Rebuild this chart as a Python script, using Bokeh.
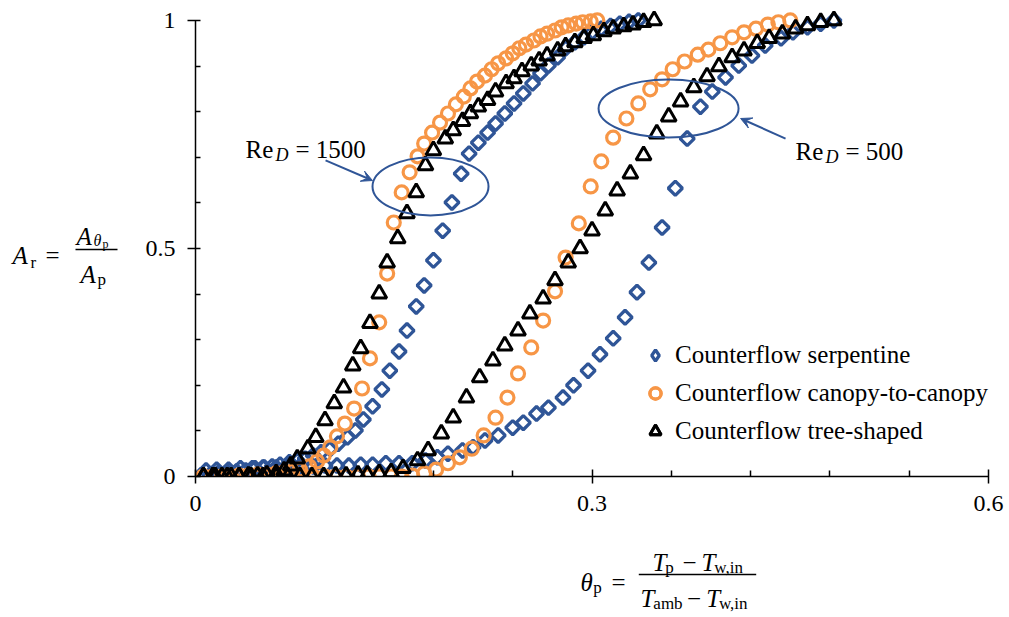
import math
from bokeh.plotting import figure
from bokeh.layouts import row, column
from bokeh.models import Range1d, FixedTicker, Label, Arrow, VeeHead, Legend, LegendItem
from bokeh.embed import file_html
from bokeh.resources import INLINE

# ---------------- data ----------------
serp_1500_x = [0.004, 0.011, 0.017, 0.024, 0.031, 0.038, 0.045, 0.051, 0.058, 0.064,
               0.071, 0.077, 0.083, 0.089, 0.095, 0.102, 0.108, 0.115, 0.121, 0.127,
               0.134, 0.141, 0.147, 0.154, 0.160, 0.167, 0.173, 0.180, 0.187, 0.194,
               0.201, 0.207, 0.214, 0.221, 0.227, 0.234, 0.241, 0.248, 0.255, 0.261,
               0.267, 0.274, 0.280, 0.287, 0.294, 0.300, 0.307, 0.314, 0.321, 0.328, 0.335]
serp_1500_y = [0.002, 0.004, 0.007, 0.009, 0.011, 0.013, 0.018, 0.020, 0.022, 0.026,
               0.031, 0.035, 0.039, 0.046, 0.053, 0.061, 0.072, 0.086, 0.101, 0.125,
               0.154, 0.191, 0.232, 0.274, 0.320, 0.373, 0.419, 0.474, 0.539, 0.601,
               0.664, 0.708, 0.732, 0.754, 0.774, 0.796, 0.818, 0.840, 0.862, 0.884,
               0.901, 0.919, 0.939, 0.952, 0.963, 0.974, 0.982, 0.988, 0.993, 0.997, 1.000]

canopy_1500_x = [0.006, 0.013, 0.020, 0.027, 0.033, 0.040, 0.047, 0.054, 0.061, 0.067,
                 0.073, 0.079, 0.086, 0.092, 0.097, 0.102, 0.107, 0.113, 0.120, 0.126,
                 0.132, 0.139, 0.145, 0.150, 0.156, 0.162, 0.168, 0.173, 0.179, 0.185,
                 0.191, 0.197, 0.203, 0.208, 0.213, 0.219, 0.224, 0.229, 0.235, 0.240,
                 0.245, 0.250, 0.256, 0.261, 0.266, 0.272, 0.277, 0.282, 0.288, 0.293,
                 0.299, 0.304]
canopy_1500_y = [0.000, 0.000, 0.000, 0.000, 0.002, 0.002, 0.004, 0.004, 0.007, 0.009,
                 0.011, 0.015, 0.022, 0.033, 0.046, 0.064, 0.088, 0.116, 0.149, 0.193,
                 0.259, 0.338, 0.445, 0.557, 0.623, 0.667, 0.702, 0.730, 0.754, 0.776,
                 0.796, 0.816, 0.833, 0.851, 0.866, 0.879, 0.893, 0.906, 0.917, 0.928,
                 0.939, 0.947, 0.956, 0.965, 0.971, 0.978, 0.985, 0.989, 0.993, 0.996,
                 0.998, 1.000]

tree_1500_x = [0.006, 0.013, 0.020, 0.027, 0.033, 0.040, 0.047, 0.054, 0.061, 0.067,
               0.072, 0.077, 0.085, 0.091, 0.098, 0.105, 0.112, 0.119, 0.125, 0.132,
               0.139, 0.145, 0.153, 0.160, 0.167, 0.174, 0.180, 0.189, 0.195, 0.202,
               0.208, 0.214, 0.221, 0.227, 0.235, 0.241, 0.247, 0.254, 0.260, 0.266,
               0.274, 0.280, 0.287, 0.294, 0.301, 0.309, 0.316, 0.324, 0.331, 0.339, 0.347]
tree_1500_y = [0.000, 0.000, 0.000, 0.000, 0.000, 0.002, 0.002, 0.004, 0.007, 0.013,
               0.024, 0.039, 0.061, 0.086, 0.123, 0.160, 0.195, 0.243, 0.281, 0.336,
               0.401, 0.469, 0.522, 0.577, 0.623, 0.682, 0.715, 0.741, 0.759, 0.779,
               0.796, 0.811, 0.825, 0.844, 0.862, 0.873, 0.888, 0.901, 0.912, 0.923,
               0.934, 0.943, 0.952, 0.961, 0.967, 0.976, 0.982, 0.987, 0.991, 0.996, 1.000]

serp_500_x = [0.008, 0.016, 0.025, 0.034, 0.043, 0.052, 0.061, 0.070, 0.079, 0.089,
              0.098, 0.107, 0.116, 0.125, 0.134, 0.144, 0.154, 0.164, 0.174, 0.183,
              0.191, 0.202, 0.210, 0.219, 0.229, 0.240, 0.248, 0.258, 0.267, 0.278,
              0.286, 0.297, 0.306, 0.316, 0.325, 0.334, 0.343, 0.353, 0.363, 0.372,
              0.382, 0.391, 0.401, 0.411, 0.421, 0.431, 0.443, 0.452, 0.463, 0.473, 0.483]
serp_500_y = [0.013, 0.015, 0.015, 0.018, 0.018, 0.020, 0.020, 0.022, 0.022, 0.022,
              0.024, 0.024, 0.024, 0.026, 0.026, 0.029, 0.029, 0.029, 0.035, 0.042,
              0.050, 0.057, 0.064, 0.079, 0.090, 0.107, 0.118, 0.138, 0.151, 0.173,
              0.200, 0.232, 0.268, 0.303, 0.349, 0.404, 0.469, 0.546, 0.632, 0.741,
              0.811, 0.844, 0.875, 0.901, 0.923, 0.945, 0.961, 0.974, 0.985, 0.993, 1.000]

canopy_500_x = [0.006, 0.014, 0.023, 0.031, 0.039, 0.048, 0.056, 0.064, 0.073, 0.081,
                0.089, 0.098, 0.106, 0.114, 0.123, 0.131, 0.139, 0.148, 0.156, 0.164,
                0.173, 0.182, 0.191, 0.200, 0.209, 0.218, 0.227, 0.236, 0.244, 0.254,
                0.263, 0.272, 0.280, 0.290, 0.299, 0.307, 0.316, 0.326, 0.335, 0.344,
                0.353, 0.361, 0.370, 0.380, 0.388, 0.397, 0.406, 0.415, 0.424, 0.433,
                0.441, 0.450]
canopy_500_y = [0.000, 0.000, 0.000, 0.000, 0.000, 0.000, 0.000, 0.000, 0.000, 0.000,
                0.000, 0.000, 0.000, 0.000, 0.000, 0.000, 0.000, 0.000, 0.000, 0.002,
                0.007, 0.015, 0.029, 0.042, 0.061, 0.090, 0.129, 0.173, 0.226, 0.283,
                0.342, 0.406, 0.480, 0.555, 0.636, 0.691, 0.743, 0.785, 0.818, 0.849,
                0.871, 0.893, 0.910, 0.925, 0.936, 0.950, 0.963, 0.974, 0.982, 0.991,
                0.996, 1.000]

tree_500_x = [0.006, 0.015, 0.024, 0.033, 0.042, 0.051, 0.061, 0.070, 0.079, 0.088,
              0.097, 0.106, 0.114, 0.123, 0.130, 0.139, 0.148, 0.157, 0.168, 0.176,
              0.186, 0.195, 0.205, 0.215, 0.225, 0.234, 0.244, 0.253, 0.263, 0.272,
              0.282, 0.291, 0.300, 0.310, 0.319, 0.329, 0.339, 0.349, 0.358, 0.367,
              0.377, 0.387, 0.396, 0.406, 0.415, 0.425, 0.434, 0.444, 0.454, 0.463,
              0.473, 0.483]
tree_500_y = [0.000, 0.000, 0.000, 0.000, 0.000, 0.000, 0.000, 0.000, 0.000, 0.000,
              0.000, 0.002, 0.002, 0.004, 0.004, 0.007, 0.009, 0.018, 0.035, 0.057,
              0.094, 0.129, 0.173, 0.217, 0.254, 0.287, 0.320, 0.357, 0.390, 0.430,
              0.469, 0.500, 0.539, 0.583, 0.627, 0.664, 0.704, 0.752, 0.789, 0.822,
              0.853, 0.877, 0.899, 0.919, 0.934, 0.950, 0.961, 0.971, 0.982, 0.989,
              0.996, 1.000]

legend_labels = ["Counterflow serpentine", "Counterflow canopy-to-canopy", "Counterflow tree-shaped"]
x_ticks = [0, 0.3, 0.6]
x_tick_labels = ["0", "0.3", "0.6"]
x_minor = [0.06, 0.12, 0.18, 0.24, 0.36, 0.42, 0.48, 0.54]
y_ticks = [0, 0.5, 1]
y_tick_labels = ["0", "0.5", "1"]
y_minor = [0.1, 0.2, 0.3, 0.4, 0.6, 0.7, 0.8, 0.9]

BLUE = "#2F5597"
ORANGE = "#F79646"
BLACK = "#000000"
FONT = "Liberation Serif"

# ---------------- main figure ----------------
p = figure(width=880, height=528,
           x_range=Range1d(0, 0.606), y_range=Range1d(0, 1.024),
           output_backend="svg", toolbar_location=None, title=None,
           min_border_left=70, min_border_right=9, min_border_top=9, min_border_bottom=52)
p.outline_line_color = None
p.xgrid.visible = False
p.ygrid.visible = False
p.background_fill_color = "white"
p.border_fill_color = "white"

xa = p.xaxis[0]
xa.bounds = (0, 0.6)
xa.ticker = FixedTicker(ticks=x_ticks, minor_ticks=x_minor)
xa.major_label_overrides = dict(zip(x_ticks, x_tick_labels))
xa.major_tick_in = 7
xa.major_tick_out = 7
xa.minor_tick_in = 6
xa.minor_tick_out = 0
xa.major_label_standoff = 12

ya = p.yaxis[0]
ya.bounds = (0, 1)
ya.ticker = FixedTicker(ticks=y_ticks, minor_ticks=y_minor)
ya.major_label_overrides = dict(zip(y_ticks, y_tick_labels))
ya.major_tick_in = 5
ya.major_tick_out = 8
ya.minor_tick_in = 5
ya.minor_tick_out = 0
ya.major_label_standoff = 12

for ax in (xa, ya):
    ax.axis_line_color = BLACK
    ax.axis_line_width = 1.5
    ax.major_tick_line_color = BLACK
    ax.major_tick_line_width = 1.5
    ax.minor_tick_line_color = BLACK
    ax.minor_tick_line_width = 1.5
    ax.major_label_text_font = FONT
    ax.major_label_text_font_size = "24px"
    ax.major_label_text_color = BLACK

# ---------------- series ----------------
sq = dict(marker="square", angle=math.pi / 4, size=10, line_color=BLUE, line_width=3.3, fill_color=None)
ci = dict(marker="circle", size=13, line_color=ORANGE, line_width=3.2, fill_color=None)
tr = dict(marker="triangle", size=15, line_color=BLACK, line_width=3, fill_color=None)

rs1 = p.scatter(serp_1500_x, serp_1500_y, **sq)
rs2 = p.scatter(serp_500_x, serp_500_y, **sq)
rc1 = p.scatter(canopy_1500_x, canopy_1500_y, **ci)
rc2 = p.scatter(canopy_500_x, canopy_500_y, **ci)
rt1 = p.scatter(tree_1500_x, tree_1500_y, **tr)
rt2 = p.scatter(tree_500_x, tree_500_y, **tr)
# key-only glyph (a NaN point, never drawn in the plot) so the legend shows a diamond
rs_key = p.scatter(x=[float("nan")], y=[float("nan")], marker="diamond",
                   line_color=BLUE, line_width=3.3, fill_color=None)

legend = Legend(items=[LegendItem(label=legend_labels[0], renderers=[rs_key]),
                       LegendItem(label=legend_labels[1], renderers=[rc1, rc2]),
                       LegendItem(label=legend_labels[2], renderers=[rt1, rt2])],
                location=(446, 31), orientation="vertical",
                border_line_color=None, background_fill_alpha=0,
                padding=0, margin=0, spacing=10,
                glyph_width=28, glyph_height=28, label_height=28, label_standoff=6,
                label_text_font=FONT, label_text_font_size="25px", label_text_color=BLACK)
p.add_layout(legend)

# ---------------- annotations inside the plot ----------------
p.ellipse(x=[0.1778, 0.3579], y=[0.636, 0.807], width=[116, 140], height=[58, 58],
          width_units="screen", height_units="screen",
          fill_color=None, line_color=BLUE, line_width=2)

for xs, ys, xe, ye in [(0.0984, 0.693, 0.1339, 0.649), (0.4464, 0.741, 0.4124, 0.785)]:
    p.add_layout(Arrow(x_start=xs, y_start=ys, x_end=xe, y_end=ye,
                       line_color=BLUE, line_width=2,
                       end=VeeHead(size=11, line_color=BLUE, fill_color=BLUE, line_width=1)))


def lab(fig, text, x, y, size, italic=False, units="data"):
    fig.add_layout(Label(x=x, y=y, x_units=units, y_units=units, text=text,
                         text_font=FONT, text_font_size=f"{size}px",
                         text_font_style="italic" if italic else "normal",
                         text_baseline="alphabetic", text_align="left", text_color=BLACK))


# Re_D = 1500   (screen units relative to the frame)
lab(p, "Re", 50, 327, 25, units="screen")
lab(p, "D", 80, 322, 18, True, units="screen")
lab(p, "= 1500", 100, 327, 25, units="screen")
# Re_D = 500
lab(p, "Re", 600, 325, 25, units="screen")
lab(p, "D", 630, 320, 18, True, units="screen")
lab(p, "= 500", 650, 325, 25, units="screen")


def blank(w, h, x0, x1, y0, y1):
    f = figure(width=w, height=h, x_range=Range1d(x0, x1), y_range=Range1d(y0, y1),
               output_backend="svg", toolbar_location=None, title=None,
               x_axis_location=None, y_axis_location=None, min_border=0)
    f.outline_line_color = None
    f.grid.visible = False
    f.background_fill_color = "white"
    f.border_fill_color = "white"
    return f


# ---------------- y-axis title: A_r = A_{theta_p} / A_p ----------------
fy = blank(125, 528, 0, 125, 528, 0)
lab(fy, "A", 12, 255, 25, True)
lab(fy, "r", 30, 262, 17)
lab(fy, "=", 45, 255, 25)
lab(fy, "A", 76, 236, 25, True)
lab(fy, "θ", 93, 240, 16, True)
lab(fy, "p", 102, 243, 12)
fy.segment(x0=[75], y0=[249], x1=[117], y1=[249], line_color=BLACK, line_width=1.3)
lab(fy, "A", 80, 274, 25, True)
lab(fy, "p", 97, 279, 17)

# ---------------- x-axis title: theta_p = (T_p - T_w,in)/(T_amb - T_w,in) ----------------
fx = blank(880, 86, 125, 1005, 614, 528)
lab(fx, "θ", 548, 582, 25, True)
lab(fx, "p", 562, 587, 17)
lab(fx, "=", 582, 582, 25)
lab(fx, "T", 627, 562, 25, True)
lab(fx, "p", 641, 567, 17)
lab(fx, "−", 660, 562, 25)
lab(fx, "T", 681, 562, 25, True)
lab(fx, "w,in", 695, 567, 17)
fx.segment(x0=[612], y0=[574], x1=[741], y1=[574], line_color=BLACK, line_width=1.3)
lab(fx, "T", 614, 598, 25, True)
lab(fx, "amb", 628, 603, 17)
lab(fx, "−", 665, 598, 25)
lab(fx, "T", 686, 598, 25, True)
lab(fx, "w,in", 700, 603, 17)

layout = row(fy, column(p, fx, spacing=0), spacing=0)
open("out.html", "w").write(file_html(layout, INLINE))
